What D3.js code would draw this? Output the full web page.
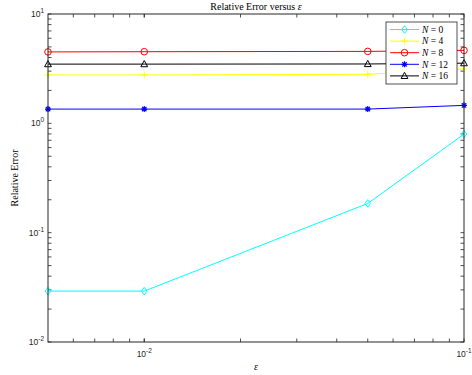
<!DOCTYPE html>
<html>
<head>
<meta charset="utf-8">
<script src="https://cdn.jsdelivr.net/npm/d3@7"></script>
<style>
  html, body { margin: 0; padding: 0; background: #fff; }
  svg { display: block; }
</style>
</head>
<body>
<svg id="chart" width="472" height="375"></svg>
<script>
// Step sizes epsilon
const epsilons = [0.005, 0.01, 0.05, 0.1];

// Relative error for each truncation order N
const seriesNames = ["N = 0", "N = 4", "N = 8", "N = 12", "N = 16"];
const errN0  = [0.0292, 0.0292, 0.185, 0.797];
const errN4  = [2.77, 2.77, 2.81, 3.14];
const errN8  = [4.50, 4.52, 4.55, 4.65];
const errN12 = [1.35, 1.35, 1.35, 1.46];
const errN16 = [3.48, 3.48, 3.49, 3.55];

const xTickValues = [0.01, 0.1];
const yTickValues = [0.01, 0.1, 1, 10];

const seriesColors  = ["#00ffff", "#ffff00", "#ff0000", "#0000ff", "#000000"];
const seriesMarkers = ["diamond", "plus", "circle", "asterisk", "triangle"];
const seriesValues  = [errN0, errN4, errN8, errN12, errN16];

const W = 472, H = 375;
const m = { left: 48, right: 8, top: 14, bottom: 33 };
const iw = W - m.left - m.right, ih = H - m.top - m.bottom;

const svg = d3.select("#chart");
const g = svg.append("g").attr("transform", `translate(${m.left},${m.top})`);

const x = d3.scaleLog().domain([0.005, 0.1]).range([0, iw]);
const y = d3.scaleLog().domain([0.01, 10]).range([ih, 0]);

const axisColor = "#262626";
const tickLen = 3.5;

// minor + major ticks on all four sides, pointing inward
const xMinor = [];
[0.001, 0.01].forEach(d => { for (let k = 1; k < 10; k++) { const v = d * k; if (v > 0.005 && v < 0.1) xMinor.push(v); } });
const yMinor = [];
[0.01, 0.1, 1].forEach(d => { for (let k = 2; k < 10; k++) yMinor.push(d * k); });

const xt = xMinor.concat(xTickValues);
const yt = yMinor.concat(yTickValues);
const ticks = g.append("g").attr("stroke", axisColor).attr("stroke-width", 0.8);
xt.forEach(v => {
  const px = x(v);
  ticks.append("line").attr("x1", px).attr("x2", px).attr("y1", ih).attr("y2", ih - tickLen);
  ticks.append("line").attr("x1", px).attr("x2", px).attr("y1", 0).attr("y2", tickLen);
});
yt.forEach(v => {
  const py = y(v);
  ticks.append("line").attr("x1", 0).attr("x2", tickLen).attr("y1", py).attr("y2", py);
  ticks.append("line").attr("x1", iw).attr("x2", iw - tickLen).attr("y1", py).attr("y2", py);
});

// tick labels as 10^k
function powLabel(sel, v) {
  const e = Math.round(Math.log10(v));
  sel.append("tspan").text("10");
  sel.append("tspan").attr("dy", -4).attr("font-size", 6.5).text(e);
}
xTickValues.forEach(v => {
  const t = g.append("text").attr("x", x(v)).attr("y", ih + 15)
    .attr("text-anchor", "middle").attr("font-family", "Liberation Sans, Arial, sans-serif")
    .attr("font-size", 8.5).attr("fill", axisColor);
  powLabel(t, v);
});
yTickValues.forEach(v => {
  const t = g.append("text").attr("x", -4).attr("y", y(v) + 3)
    .attr("text-anchor", "end").attr("font-family", "Liberation Sans, Arial, sans-serif")
    .attr("font-size", 8.5).attr("fill", axisColor);
  powLabel(t, v);
});

// marker symbols
function drawMarker(sel, kind, cx, cy, color) {
  const mg = sel.append("g").attr("transform", `translate(${cx},${cy})`)
    .attr("fill", "none").attr("stroke", color).attr("stroke-width", 1);
  if (kind === "circle") mg.append("circle").attr("r", 3.3);
  else if (kind === "diamond") mg.append("path").attr("d", "M0,-3.8L2.8,0L0,3.8L-2.8,0Z");
  else if (kind === "plus") mg.append("path").attr("d", "M-3.3,0H3.3M0,-3.3V3.3");
  else if (kind === "triangle") mg.append("path").attr("d", "M0,-3.6L3.4,2.6L-3.4,2.6Z");
  else if (kind === "asterisk") mg.append("path")
    .attr("d", "M-3,0H3M0,-3V3M-2.2,-2.2L2.2,2.2M-2.2,2.2L2.2,-2.2").attr("stroke-width", 1.2);
}

const line = d3.line().x(d => x(d[0])).y(d => y(d[1]));
const plot = g.append("g");
seriesValues.forEach((vals, i) => {
  const pts = epsilons.map((e, j) => [e, vals[j]]);
  plot.append("path").datum(pts).attr("d", line)
    .attr("fill", "none").attr("stroke", seriesColors[i]).attr("stroke-width", 1);
  pts.forEach(p => drawMarker(plot, seriesMarkers[i], x(p[0]), y(p[1]), seriesColors[i]));
});

// axes box
g.append("rect").attr("x", 0).attr("y", 0).attr("width", iw).attr("height", ih)
  .attr("fill", "none").attr("stroke", axisColor).attr("stroke-width", 1);

// legend
const lg = g.append("g").attr("transform", `translate(${386 - m.left},${22 - m.top})`);
lg.append("rect").attr("width", 71).attr("height", 62)
  .attr("fill", "#fff").attr("stroke", axisColor).attr("stroke-width", 0.8);
seriesNames.forEach((name, i) => {
  const ry = 7.5 + i * 11.6;
  lg.append("line").attr("x1", 4).attr("x2", 33).attr("y1", ry).attr("y2", ry)
    .attr("stroke", seriesColors[i]).attr("stroke-width", 1);
  drawMarker(lg, seriesMarkers[i], 18.5, ry, seriesColors[i]);
  const parts = name.split(" = ");
  const t = lg.append("text").attr("x", 36).attr("y", ry + 3.3)
    .attr("font-family", "Liberation Serif, Times New Roman, serif").attr("font-size", 9.5).attr("fill", "#000");
  t.append("tspan").attr("font-style", "italic").text(parts[0]);
  t.append("tspan").text(" = " + parts[1]);
});

// title and axis labels
svg.append("text").attr("x", m.left + iw / 2).attr("y", 10)
  .attr("text-anchor", "middle").attr("font-family", "Liberation Serif, Times New Roman, serif")
  .attr("font-size", 10).attr("fill", "#000")
  .call(t => { t.append("tspan").text("Relative Error versus "); t.append("tspan").attr("font-style", "italic").text("ε"); });
svg.append("text").attr("transform", `translate(18,${m.top + ih / 2}) rotate(-90)`)
  .attr("text-anchor", "middle").attr("font-family", "Liberation Serif, Times New Roman, serif")
  .attr("font-size", 10).attr("fill", "#000").text("Relative Error");
svg.append("text").attr("x", m.left + iw / 2).attr("y", 370)
  .attr("text-anchor", "middle").attr("font-family", "Liberation Serif, Times New Roman, serif")
  .attr("font-size", 10).attr("font-style", "italic").attr("fill", "#000").text("ε");
</script>
</body>
</html>
